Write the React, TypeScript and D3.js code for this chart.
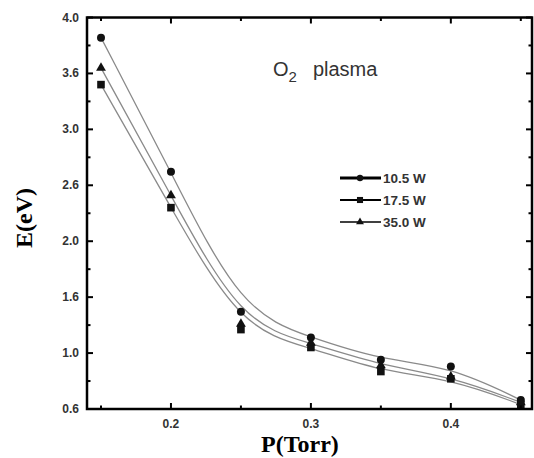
import React from "react";
import * as d3 from "d3";

const pressures = [0.15, 0.2, 0.25, 0.3, 0.35, 0.4, 0.45];
const series105 = [3.82, 2.62, 1.37, 1.14, 0.94, 0.88, 0.58];
const series175 = [3.4, 2.3, 1.21, 1.05, 0.835, 0.77, 0.54];
const series350 = [3.55, 2.41, 1.26, 1.09, 0.89, 0.79, 0.56];
const seriesNames = ["10.5 W", "17.5 W", "35.0 W"];
const yTickValues = [0.5, 1.0, 1.5, 2.0, 2.5, 3.0, 3.5, 4.0];
const yTickLabels = ["0.6", "1.0", "1.6", "2.0", "2.6", "3.0", "3.6", "4.0"];
const xTickValues = [0.2, 0.3, 0.4];
const xTickLabels = ["0.2", "0.3", "0.4"];
const xMinorTicks = [0.15, 0.25, 0.35, 0.45];
const yMinorTicks = [0.75, 1.25, 1.75, 2.25, 2.75, 3.25, 3.75];

const W = 534;
const H = 458;
const L = 87, R = 532, T = 17.5, B = 409;

export default function App() {
  const x = d3.scaleLinear().domain([0.14, 0.458]).range([L, R]);
  const y = d3.scaleLinear().domain([0.5, 4.0]).range([B, T]);
  const allSeries = [series105, series175, series350];
  const line = d3
    .line<number>()
    .x((_, i) => x(pressures[i]))
    .y((d) => y(d))
    .curve(d3.curveBasis);

  const marker = (kind: number, cx: number, cy: number, key: string, s = 1) => {
    if (kind === 0) return <circle key={key} cx={cx} cy={cy} r={4 * s} fill="#111" />;
    if (kind === 1)
      return <rect key={key} x={cx - 3.8 * s} y={cy - 3.8 * s} width={7.6 * s} height={7.6 * s} fill="#111" />;
    const sym = d3.symbol(d3.symbolTriangle, 42 * s * s)();
    return <path key={key} d={sym || ""} transform={`translate(${cx},${cy})`} fill="#111" />;
  };

  const tickStroke = { stroke: "#000", strokeWidth: 2 };
  const tickFont = { fontFamily: "Liberation Sans, Arial, sans-serif", fontWeight: 700, fontSize: 12, fill: "#333" };

  return (
    <svg width={W} height={H} style={{ position: "absolute", left: 0, top: 0, background: "#fff" }}>
      {/* curves */}
      {allSeries.map((s, k) => (
        <path key={"c" + k} d={line(s) || ""} fill="none" stroke="#8a8a8a" strokeWidth={1.3} />
      ))}
      {/* markers */}
      {allSeries.map((s, k) => s.map((v, i) => marker(k, x(pressures[i]), y(v), `m${k}-${i}`)))}

      {/* frame */}
      <rect x={L} y={T} width={R - L} height={B - T} fill="none" stroke="#000" strokeWidth={2.5} />

      {/* x ticks */}
      {xTickValues.map((v) => (
        <g key={"xt" + v}>
          <line x1={x(v)} x2={x(v)} y1={B} y2={B - 6} {...tickStroke} />
          <line x1={x(v)} x2={x(v)} y1={T} y2={T + 6} {...tickStroke} />
        </g>
      ))}
      {xMinorTicks.map((v) => (
        <g key={"xm" + v}>
          <line x1={x(v)} x2={x(v)} y1={B} y2={B - 3.5} {...tickStroke} />
          <line x1={x(v)} x2={x(v)} y1={T} y2={T + 3.5} {...tickStroke} />
        </g>
      ))}
      {xTickValues.map((v, i) => (
        <text key={"xl" + v} x={x(v)} y={428} textAnchor="middle" {...tickFont}>
          {xTickLabels[i]}
        </text>
      ))}

      {/* y ticks */}
      {yTickValues.map((v) => (
        <g key={"yt" + v}>
          <line x1={L} x2={L + 6} y1={y(v)} y2={y(v)} {...tickStroke} />
          <line x1={R} x2={R - 6} y1={y(v)} y2={y(v)} {...tickStroke} />
        </g>
      ))}
      {yMinorTicks.map((v) => (
        <g key={"ym" + v}>
          <line x1={L} x2={L + 3.5} y1={y(v)} y2={y(v)} {...tickStroke} />
          <line x1={R} x2={R - 3.5} y1={y(v)} y2={y(v)} {...tickStroke} />
        </g>
      ))}
      {yTickValues.map((v, i) => (
        <text key={"yl" + v} x={79} y={y(v) + 4} textAnchor="end" {...tickFont}>
          {yTickLabels[i]}
        </text>
      ))}

      {/* axis titles */}
      <text x={300} y={452} textAnchor="middle" fontFamily="Liberation Serif, Times New Roman, serif" fontWeight={700} fontSize={24} fill="#000">
        P(Torr)
      </text>
      <text
        transform={`translate(32,218) rotate(-90)`}
        textAnchor="middle"
        fontFamily="Liberation Serif, Times New Roman, serif"
        fontWeight={700}
        fontSize={24}
        fill="#000"
      >
        E(eV)
      </text>

      {/* title */}
      <text x={273} y={76} fontFamily="Liberation Sans, Arial, sans-serif" fontSize={20} fill="#333">
        O<tspan fontSize={15} dy={6}>2</tspan>
        <tspan dy={-6} dx={16}>plasma</tspan>
      </text>

      {/* legend */}
      {seriesNames.map((name, k) => {
        const ly = 178 + k * 22;
        return (
          <g key={"lg" + k}>
            <line x1={340} x2={381} y1={ly} y2={ly} stroke="#000" strokeWidth={k === 0 ? 3 : k === 1 ? 2 : 1.5} />
            {marker(k, 360, ly, "lm" + k, 0.8)}
            <text x={383} y={ly + 5} fontFamily="Liberation Sans, Arial, sans-serif" fontWeight={700} fontSize={13.5} fill="#333">
              {name}
            </text>
          </g>
        );
      })}
    </svg>
  );
}
